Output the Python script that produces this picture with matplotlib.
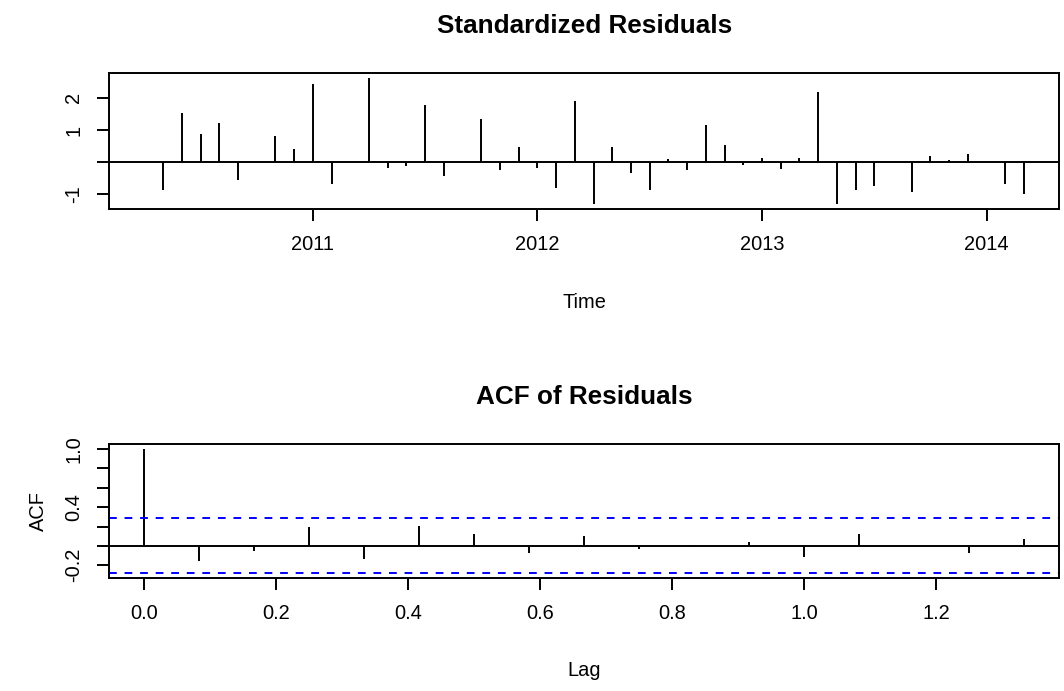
import numpy as np
import matplotlib
matplotlib.use("Agg")
import matplotlib.pyplot as plt

plt.rcParams['font.family'] = ['Liberation Sans', 'DejaVu Sans']

# ---- data ----
start_year = 2010
start_month = 4          # April 2010, monthly series
std_resid = [0.02, -0.85, 1.54, 0.89, 1.22, -0.54, -0.02, 0.83, 0.40, 2.42,
             -0.67, 0.01, 2.61, -0.17, -0.12, 1.78, -0.42, 0.01, 1.35, -0.23,
             0.46, -0.17, -0.79, 1.91, -1.30, 0.46, -0.35, -0.85, 0.09, -0.23,
             1.16, 0.53, -0.09, 0.14, -0.22, 0.14, 2.17, -1.30, -0.86, -0.75,
             -0.01, -0.92, 0.20, 0.07, 0.26, 0.01, -0.67, -0.99]
acf_vals = [1.0, -0.153, -0.051, 0.190, -0.133, 0.207, 0.126, -0.071, 0.105,
            -0.031, 0.005, 0.044, -0.112, 0.126, 0.004, -0.071, 0.068]
year_ticks = [2011, 2012, 2013, 2014]
lag_ticks = [0.0, 0.2, 0.4, 0.6, 0.8, 1.0, 1.2]
lag_tick_labels = ['0.0', '0.2', '0.4', '0.6', '0.8', '1.0', '1.2']
resid_yticks = [-1, 0, 1, 2]
resid_ytick_labels = ['-1', '', '1', '2']
acf_yticks = [-0.2, 0.0, 0.2, 0.4, 0.6, 0.8, 1.0]
acf_ytick_labels = ['-0.2', '', '', '0.4', '', '', '1.0']

n = len(std_resid)
freq = 12
times = start_year + (start_month - 1) / freq + np.arange(n) / freq
lags = np.arange(len(acf_vals)) / freq
ci = 1.96 / np.sqrt(n)

W, H, DPI = 1064, 691, 100
fig = plt.figure(figsize=(W / DPI, H / DPI), dpi=DPI)

TICK_FS = 14.4
TITLE_FS = 18.8
LW = 1.4

def style(ax):
    for s in ax.spines.values():
        s.set_linewidth(LW)
    ax.tick_params(direction='out', length=8.6, width=LW, labelsize=TICK_FS, pad=10)
    for lab in ax.get_yticklabels():
        lab.set_rotation(90)
        lab.set_va('center')

# ---- top panel ----
ax1 = fig.add_axes([109.2 / W, 1 - 209 / H, 950 / W, 135.7 / H])
ax1.vlines(times, 0, std_resid, color='black', lw=LW)
ax1.axhline(0, color='black', lw=LW)
ax1.margins(x=0.04, y=0.04)
ax1.set_xticks(year_ticks)
ax1.set_xticklabels([str(y) for y in year_ticks])
ax1.set_yticks(resid_yticks)
ax1.set_yticklabels(resid_ytick_labels)
style(ax1)
ax1.annotate('Standardized Residuals', xy=(0.5, 1), xycoords='axes fraction',
             xytext=(0, 28.8), textcoords='offset points', ha='center', va='baseline',
             fontsize=TITLE_FS, fontweight='bold')
ax1.annotate('Time', xy=(0.5, 0), xycoords='axes fraction',
             xytext=(0, -71.3), textcoords='offset points', ha='center', va='baseline',
             fontsize=TICK_FS)

# ---- bottom panel ----
ax2 = fig.add_axes([109.2 / W, 1 - 578.3 / H, 950.2 / W, 134.3 / H])
ax2.vlines(lags, 0, acf_vals, color='black', lw=LW)
ax2.axhline(0, color='black', lw=LW)
ax2.axhline(ci, color='#0000FF', lw=LW, linestyle=(0, (4, 4)))
ax2.axhline(-ci, color='#0000FF', lw=LW, linestyle=(0, (4, 4)))
lo = min(-ci, min(acf_vals))
hi = max(ci, 1.0, max(acf_vals))
pad = 0.04 * (hi - lo)
ax2.set_ylim(lo - pad, hi + pad)
ax2.margins(x=0.04)
ax2.set_xticks(lag_ticks)
ax2.set_xticklabels(lag_tick_labels)
ax2.set_yticks(acf_yticks)
ax2.set_yticklabels(acf_ytick_labels)
style(ax2)
ax2.set_ylabel('ACF', fontsize=TICK_FS, labelpad=12)
ax2.annotate('ACF of Residuals', xy=(0.5, 1), xycoords='axes fraction',
             xytext=(0, 28.8), textcoords='offset points', ha='center', va='baseline',
             fontsize=TITLE_FS, fontweight='bold')
ax2.annotate('Lag', xy=(0.5, 0), xycoords='axes fraction',
             xytext=(0, -70), textcoords='offset points', ha='center', va='baseline',
             fontsize=TICK_FS)

fig.savefig('out.png', dpi=DPI)
